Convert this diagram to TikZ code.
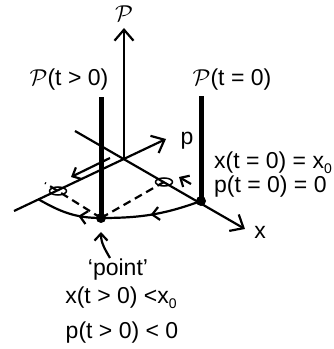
\documentclass[tikz,border=0pt]{standalone}
\usepackage{fix-cm}
\usepackage{fontspec}
\setmainfont{Liberation Sans}
\usetikzlibrary{arrows.meta,decorations.markings}
\newcommand{\subz}{\raisebox{-0.45ex}{\fontsize{14}{14}\selectfont 0}}

\begin{document}
\begin{tikzpicture}[x=1pt,y=1pt, line width=2.2pt,
    font=\fontsize{23}{27}\selectfont,
    every node/.style={inner sep=1pt},
    barb/.style={-{Straight Barb[length=11pt,width=19pt]}},
    smallbarb/.style={-{Straight Barb[length=7pt,width=13pt]}},
    heavy/.style={line width=5pt},
    proj/.style={dash pattern=on 8pt off 5pt},
    flow/.style={postaction={decorate},decoration={markings,
      mark=at position 0.31 with {\arrow{Straight Barb[length=7pt,width=13pt]}},
      mark=at position 0.74 with {\arrow{Straight Barb[length=7pt,width=13pt]}}}}]

  \useasboundingbox (0,0) rectangle (333,349);

  % Axes
  \coordinate (O) at (124,191);
  \coordinate (Ptip) at (124,321);
  \coordinate (pbase) at (14,138);
  \coordinate (ptip) at (166,210);
  \coordinate (xbase) at (75,218);
  \coordinate (xtip) at (245,120);
  \draw[barb] (O) -- (Ptip);
  \draw[barb] (pbase) -- (ptip);
  \draw[barb] (xbase) -- (xtip);

  \node (Plab) at (124,335) {$\mathcal{P}$};
  \node (plab) at (187,208) {p};
  \node (xlab) at (260,117) {x};

  % Orbit in the (x,p) plane
  \coordinate (A) at (101,131);
  \coordinate (Atop) at (101,252);
  \coordinate (B) at (201,148);
  \coordinate (Btop) at (201,253);
  \coordinate (C) at (38,150);
  \draw[flow] (B) to[out=-160,in=0] (A) to[out=180,in=-30] (C);

  % Projections of the point
  \coordinate (E1) at (58,158);
  \coordinate (E2) at (164,167);
  \coordinate (dend) at (45,166);
  \draw[proj] (A) -- (dend);
  \draw[proj] (A) -- (E2);
  \draw[line width=1.5pt] (E1) ellipse (8.5pt and 4pt);
  \draw[line width=1.5pt] (E2) ellipse (8.5pt and 4pt);

  \coordinate (pa) at (110,191);
  \coordinate (pb) at (71,172);
  \draw[smallbarb] (pa) -- (pb);
  \coordinate (xa) at (191,165);
  \coordinate (xb) at (179,172);
  \draw[smallbarb] (xa) -- (xb);

  % Heavy lines
  \draw[heavy] (A) -- (Atop);
  \draw[heavy] (B) -- (Btop);
  \fill (A) circle (5pt);
  \fill (B) circle (5pt);

  % Labels
  \node (lblA) at (69,269) {$\mathcal{P}$(t > 0)};
  \node (lblB) at (232,269) {$\mathcal{P}$(t = 0)};
  \node[anchor=west] (init1) at (212,186) {x(t = 0) = x\subz};
  \node[anchor=west] (init2) at (212,162) {p(t = 0) = 0};

  \coordinate (ptail) at (110,91);
  \coordinate (phead) at (101,117);
  \draw[smallbarb] (ptail) to[out=120,in=-90] (phead);
  \node (pointlab) at (118,79) {‘point’};
  \node (later1) at (121,51) {x(t > 0) <x\subz};
  \node (later2) at (122,16) {p(t > 0) < 0};

\end{tikzpicture}
\end{document}
